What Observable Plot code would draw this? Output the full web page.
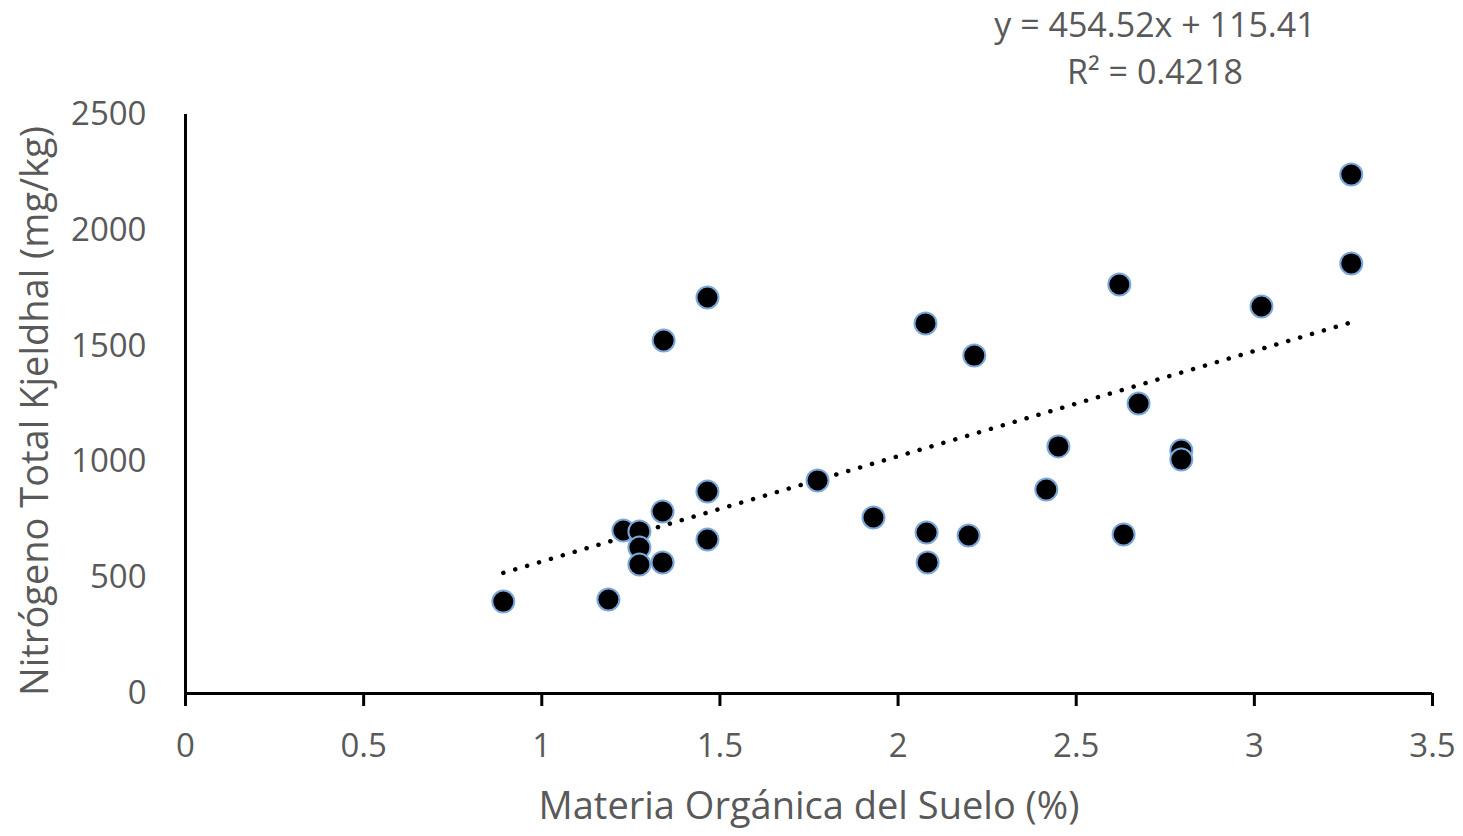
<!DOCTYPE html>
<html>
<head>
<meta charset="utf-8">
<script src="https://cdn.jsdelivr.net/npm/d3@7"></script>
<script src="https://cdn.jsdelivr.net/npm/@observablehq/plot@0.6"></script>
<style>
  html, body { margin: 0; padding: 0; background: #fff; }
  #wrap { position: relative; width: 1463px; height: 836px; font-family: "Open Sans", sans-serif; }
  #eq { position: absolute; left: 955px; top: 1px; width: 400px; text-align: center; color: #595959; font-size: 34px; line-height: 47px; }
  #chart { position: absolute; left: 0; top: 0; }
</style>
</head>
<body>
<div id="wrap">
  <div id="chart"></div>
  <div id="eq">y = 454.52x + 115.41<br>R² = 0.4218</div>
</div>
<script>
// Materia orgánica del suelo (%)
const materiaOrganica = [0.892, 1.187, 1.229, 1.274, 1.274, 1.274, 1.339, 1.339, 1.342, 1.465, 1.465, 1.465, 1.774, 1.931, 2.077, 2.080, 2.083, 2.198, 2.214, 2.416, 2.450, 2.621, 2.633, 2.675, 2.795, 2.795, 3.020, 3.272, 3.272];
// Nitrógeno total Kjeldhal (mg/kg)
const nitrogeno = [397, 406, 704, 700, 630, 557, 786, 566, 1524, 1710, 872, 665, 920, 760, 1598, 695, 566, 682, 1459, 881, 1067, 1766, 687, 1252, 1049, 1010, 1671, 2241, 1857];
// Linear trend reported in chart
const pendiente = 454.52;
const intercepto = 115.41;
const xTicks = [0, 0.5, 1, 1.5, 2, 2.5, 3, 3.5];
const yTicks = [0, 500, 1000, 1500, 2000, 2500];
const xTitle = "Materia Orgánica del Suelo (%)";
const yTitle = "Nitrógeno Total Kjeldhal (mg/kg)";

const data = materiaOrganica.map((x, i) => ({x, y: nitrogeno[i]}));
const xMin = d3.min(materiaOrganica), xMax = d3.max(materiaOrganica);
const trend = [xMin, xMax].map(x => ({x, y: pendiente * x + intercepto}));

const gray = "#595959";
const chart = Plot.plot({
  width: 1463,
  height: 836,
  marginLeft: 185,
  marginRight: 31,
  marginTop: 114,
  marginBottom: 143,
  style: {fontFamily: "Open Sans, sans-serif", background: "#fff"},
  x: {domain: [0, 3.5]},
  y: {domain: [0, 2500]},
  marks: [
    Plot.axisX({ticks: xTicks, tickFormat: d => String(d), tickSize: 13, tickPadding: 27, strokeWidth: 3, stroke: "black", fontSize: 33, color: gray, label: null}),
    Plot.axisY({ticks: yTicks, tickFormat: d => String(d), tickSize: 0, tickPadding: 39, fontSize: 33, color: gray, label: null}),
    Plot.text([xTitle], {frameAnchor: "bottom", dy: 113, lineAnchor: "middle", textAnchor: "middle", fontSize: 38, fill: gray}),
    Plot.text([yTitle], {frameAnchor: "left", dx: -150, dy: 7, rotate: -90, lineAnchor: "middle", textAnchor: "middle", fontSize: 38, fill: gray}),
    Plot.ruleY([0], {stroke: "black", strokeWidth: 3}),
    Plot.ruleX([0], {stroke: "black", strokeWidth: 3}),
    Plot.line(trend, {x: "x", y: "y", stroke: "black", strokeWidth: 4.5, strokeDasharray: "0.1,12.3", strokeLinecap: "round"}),
    Plot.dot(data, {x: "x", y: "y", r: 11, fill: "black", stroke: "#7aa7dc", strokeWidth: 2})
  ]
});
document.getElementById("chart").appendChild(chart);
</script>
</body>
</html>
